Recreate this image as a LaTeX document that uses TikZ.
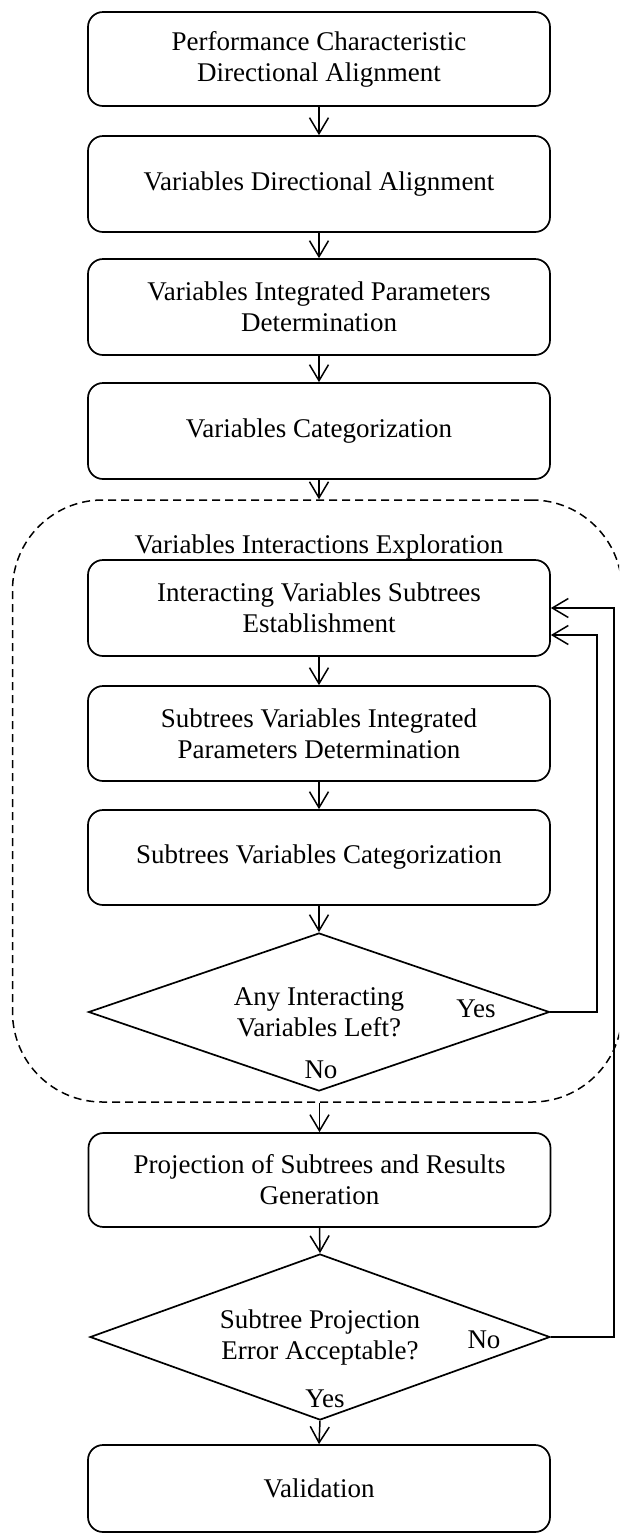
\documentclass[tikz,border=0pt]{standalone}
\usepackage{fontspec}
\setmainfont{Liberation Serif}
\usetikzlibrary{arrows.meta,shapes.geometric}

\tikzset{
  stepbox/.style={draw, line width=1.7pt, rounded corners=15pt, minimum width=462pt,
    inner sep=0pt, align=center, font=\fontsize{27}{31}\selectfont},
  decision/.style={draw, line width=1.7pt, diamond, aspect=2.9, inner sep=0pt,
    align=center, font=\fontsize{27}{31}\selectfont},
  lbl/.style={inner sep=0pt, font=\fontsize{27}{31}\selectfont},
  arr/.style={line width=1.5pt, -{Straight Barb[length=16pt,width=19pt,line width=1.5pt]}},
  group/.style={draw, line width=1.5pt, dash pattern=on 8pt off 5pt,
    rounded corners=90pt, inner sep=0pt}
}

\begin{document}
\begin{tikzpicture}[x=1pt, y=-1pt]
\useasboundingbox (0,0) rectangle (619,1535);
\clip (0,0) rectangle (619,1535);

% main sequence
\node[stepbox, minimum height=94pt] (b1) at (319,59) {Performance Characteristic\\Directional Alignment};
\node[stepbox, minimum height=96pt] (b2) at (319,184) {Variables Directional Alignment};
\node[stepbox, minimum height=96pt] (b3) at (319,307) {Variables Integrated Parameters\\Determination};
\node[stepbox, minimum height=96pt] (b4) at (319,431) {Variables Categorization};

% dashed group of the interaction loop (its right side runs past the page edge)
\node[group, minimum width=609.5pt, minimum height=602pt] (grp) at (317.25,801) {};
\node[lbl] (grplbl) at (319,547) {Variables Interactions Exploration};

\node[stepbox, minimum height=96pt] (i1) at (319,608) {Interacting Variables Subtrees\\Establishment};
\node[stepbox, minimum height=95pt] (i2) at (319,733.5) {Subtrees Variables Integrated\\Parameters Determination};
\node[stepbox, minimum height=95pt] (i3) at (319,857.5) {Subtrees Variables Categorization};
\node[decision, minimum width=461pt, minimum height=158pt] (d1) at (319,1012) {Any Interacting\\Variables Left?};

\node[stepbox, minimum height=94pt] (p) at (319.5,1180) {Projection of Subtrees and Results\\Generation};
\node[decision, minimum width=460pt, minimum height=166pt] (d2) at (320,1337) {Subtree Projection\\Error Acceptable?};
\node[stepbox, minimum height=87pt] (v) at (319,1488.5) {Validation};

% decision labels
\node[lbl] (yes1) at (476,1009) {Yes};
\node[lbl] (no1) at (321,1070) {No};
\node[lbl] (no2) at (484,1340) {No};
\node[lbl] (yes2) at (325,1399) {Yes};

% straight flow
\draw[arr] (b1.south) -- (b2.north);
\draw[arr] (b2.south) -- (b3.north);
\draw[arr] (b3.south) -- (b4.north);
\draw[arr] (b4.south) -- (b4.south |- grp.north);
\draw[arr] (i1.south) -- (i2.north);
\draw[arr] (i2.south) -- (i3.north);
\draw[arr] (i3.south) -- (d1.north);
\draw[arr] (p.south |- grp.south) -- (p.north);
\draw[arr] (p.south) -- (d2.north);
\draw[arr] (d2.south) -- (v.north);

% feedback loops
\coordinate (yesturn) at (597,635);
\coordinate (noturn) at (614,608);
\draw[arr] (d1.east) -| (yesturn) -- (yesturn -| i1.east);
\draw[arr] (d2.east) -| (noturn) -- (noturn -| i1.east);
\end{tikzpicture}
\end{document}
